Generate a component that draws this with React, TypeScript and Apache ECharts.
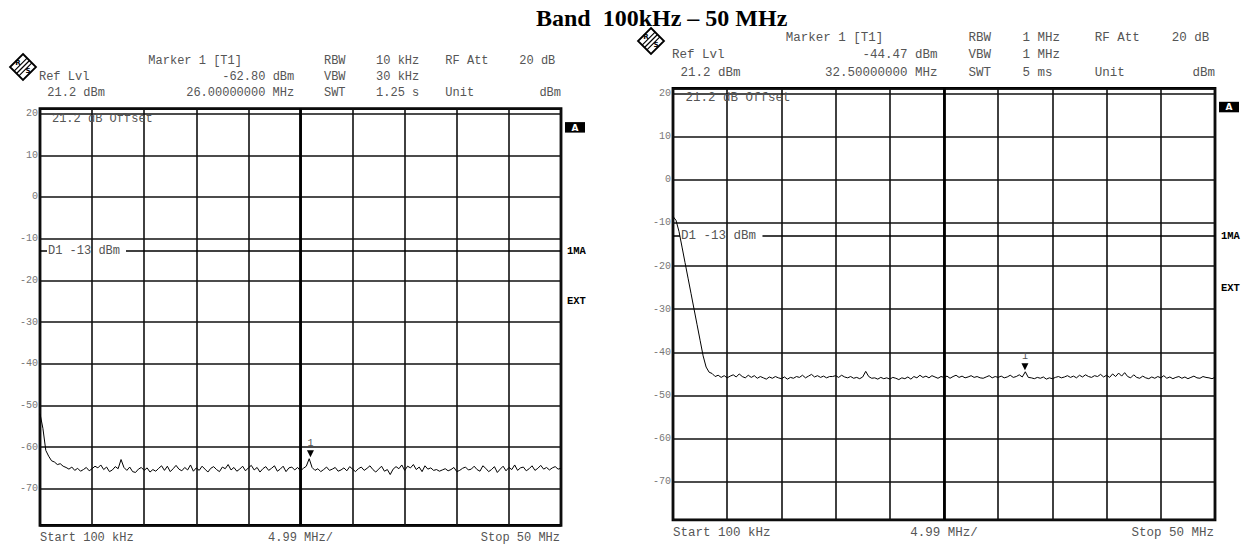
import React, { useEffect, useRef } from "react";
import * as echarts from "echarts";

const TITLE = "Band  100kHz – 50 MHz";
const START_MHZ = 0.1;
const STOP_MHZ = 50;
const REF_LEVEL = 21.2;
const RANGE_DB = 100;
const DISPLAY_LINE_DBM = -13;
const EXT_LEVEL = -25;
const BOTTOM_LABELS = ["Start 100 kHz", "4.99 MHz/", "Stop 50 MHz"];
const OFFSET_LABEL = "21.2 dB Offset";
const D1_LABEL = "D1 -13 dBm";

// header settings for both plots
const LEFT_SETTINGS = ["10 kHz", "30 kHz", "1.25 s", "-62.80 dBm", "26.00000000 MHz"];
const RIGHT_SETTINGS = ["1 MHz", "1 MHz", "5 ms", "-44.47 dBm", "32.50000000 MHz"];

const LEFT_MARKER = [26.0, -62.8];
const RIGHT_MARKER = [32.5, -44.47];

// trace levels (dBm) at equally spaced sweep points 100 kHz .. 50 MHz
const LEFT_LEVELS = [
  -52.0, -55.5, -60.8, -62.2, -63.3, -63.6, -64.2, -64.0, -64.6, -64.9,
  -65.3, -64.8, -65.6, -65.1, -65.8, -65.4, -64.9, -65.7, -65.2, -64.6,
  -65.0, -64.3, -65.4, -64.8, -65.9, -65.5, -64.7, -65.2, -63.0, -64.9,
  -65.6, -64.8, -65.9, -66.1, -65.3, -64.9, -65.6, -65.0, -66.0, -65.4,
  -65.8, -65.1, -64.5, -65.6, -64.6, -65.9, -65.2, -64.4, -65.3, -65.7,
  -64.9, -65.5, -64.3, -65.8, -65.0, -65.6, -64.6, -65.3, -66.0, -65.1,
  -64.7, -65.4, -65.9, -64.8, -65.2, -64.2, -65.5, -64.9, -65.8, -65.3,
  -64.6, -65.7, -65.0, -64.4, -65.5, -64.9, -66.0, -65.2, -64.7, -65.6,
  -65.1, -64.5, -65.8, -65.3, -64.6, -65.9, -65.0, -64.8, -65.5, -64.9,
  -65.7, -65.1, -64.6, -62.8, -64.9, -65.6, -65.2, -65.9, -65.4, -64.8,
  -65.6, -65.3, -64.9, -65.8, -65.5, -65.0, -65.7, -64.7, -65.3, -65.9,
  -65.2, -64.8, -65.6, -65.1, -64.5, -65.4, -66.0, -65.3, -64.6, -65.8,
  -65.4, -66.6, -65.3, -64.7, -65.2, -64.3, -65.6, -64.6, -65.0, -64.2,
  -65.4, -64.8, -65.9, -64.5, -65.3, -65.0, -65.6, -65.4, -65.8, -65.5,
  -65.2, -65.7, -65.4, -64.9, -65.9, -65.6, -65.1, -64.8, -65.5, -65.3,
  -64.6, -65.4, -65.8, -64.5, -65.1, -65.9, -65.4, -64.7, -66.1, -65.3,
  -64.6, -65.7, -64.9, -65.4, -64.3, -65.6, -65.0, -64.8, -65.7, -65.2,
  -64.5, -65.6, -65.1, -64.4, -65.3, -64.9, -65.5, -65.0, -64.7, -65.3,
  -65.1,
];

const RIGHT_LEVELS = [
  -8.5, -9.4, -12.0, -15.6, -19.2, -22.8, -26.4, -30.0, -33.6, -37.2,
  -40.8, -43.4, -44.6, -44.9, -45.6, -45.3, -45.8, -45.4, -45.9, -45.5,
  -45.2, -45.7, -45.0, -45.6, -45.9, -45.3, -45.8, -45.4, -46.0, -45.6,
  -45.9, -46.2, -45.7, -46.0, -45.6, -45.9, -46.1, -45.7, -46.2, -45.8,
  -46.0, -45.6, -45.8, -45.3, -45.9, -45.5, -45.1, -45.7, -45.4, -45.8,
  -45.5, -45.9, -45.6, -45.6, -45.4, -45.8, -45.3, -45.7, -45.9, -45.6,
  -46.0, -45.8, -46.1, -45.7, -44.4, -45.6, -46.0, -45.9, -46.2, -45.8,
  -46.1, -45.9, -46.2, -45.8, -46.0, -46.3, -45.9, -46.1, -45.7, -46.2,
  -45.6, -45.9, -45.3, -45.8, -45.5, -45.9, -45.4, -45.7, -46.0, -45.6,
  -45.8, -45.5, -46.0, -45.6, -45.3, -45.8, -45.5, -45.9, -45.7, -45.4,
  -45.8, -45.6, -45.9, -46.0, -45.7, -45.4, -45.9, -45.6, -45.8, -45.5,
  -45.9, -45.7, -45.3, -45.8, -45.6, -45.2, -45.7, -44.5, -45.8, -45.9,
  -46.1, -45.8, -46.0, -45.7, -46.2, -45.9, -46.1, -45.8, -45.6, -45.9,
  -45.7, -45.4, -45.8, -45.5, -45.9, -45.3, -45.7, -45.2, -45.6, -45.8,
  -45.4, -45.6, -45.1, -45.7, -45.3, -45.8, -45.0, -45.6, -44.8, -45.5,
  -44.7, -45.6, -45.9, -45.2, -45.8, -46.0, -45.5, -45.9, -46.1, -45.7,
  -46.0, -45.6, -45.9, -45.4, -46.0, -45.7, -46.1, -45.8, -45.6, -46.0,
  -45.7, -46.1, -45.8, -45.5, -45.9, -46.0, -45.6, -45.8, -45.9, -46.1,
  -45.8,
];

const SPAN = STOP_MHZ - START_MHZ;
const MONO = "'Liberation Mono', 'DejaVu Sans Mono', monospace";

type Panel = {
  left: number;
  top: number;
  w: number;
  h: number;
  rows: number[];
  logo: number[];
  fs: number;
  settings: string[];
  levels: number[];
  marker: number[];
};

const PANELS: Panel[] = [
  { left: 40, top: 108.6, w: 521, h: 416.8, rows: [61, 77, 92.5], logo: [23, 67], fs: 12, settings: LEFT_SETTINGS, levels: LEFT_LEVELS, marker: LEFT_MARKER },
  { left: 673, top: 88.3, w: 542, h: 431.5, rows: [37.5, 55, 72.5], logo: [651, 41], fs: 12.5, settings: RIGHT_SETTINGS, levels: RIGHT_LEVELS, marker: RIGHT_MARKER },
];

function txt(text: string, x: number, y: number, size: number, align: string, opts: any = {}) {
  return {
    type: "text",
    silent: true,
    z: 50,
    style: {
      text,
      x,
      y,
      fill: opts.fill || "#555",
      fontSize: size,
      fontFamily: opts.family || MONO,
      fontWeight: opts.weight || "normal",
      align,
      textAlign: align,
      verticalAlign: "middle",
      textVerticalAlign: "middle",
    },
  };
}

function logo(cx: number, cy: number) {
  const r = 13;
  const els: any[] = [];
  els.push({
    type: "polygon",
    silent: true,
    shape: { points: [[cx, cy - r], [cx + r, cy], [cx, cy + r], [cx - r, cy]] },
    style: { fill: "#fff", stroke: "#000", lineWidth: 1.8 },
  });
  for (const o of [-2.4, 0, 2.4]) {
    els.push({
      type: "line",
      silent: true,
      shape: { x1: cx + r / 2 + o, y1: cy - r / 2 + o, x2: cx - r / 2 + o, y2: cy + r / 2 + o },
      style: { stroke: "#000", lineWidth: 1.2 },
    });
  }
  els.push(txt("R", cx - 5, cy - 4, 7, "center", { fill: "#000", weight: "bold", family: "DejaVu Sans" }));
  els.push(txt("S", cx + 5, cy + 4, 7, "center", { fill: "#000", weight: "bold", family: "DejaVu Sans" }));
  return els;
}

function panelGraphics(p: Panel) {
  const c = (f: number) => p.left + f * p.w;
  const s = p.settings;
  const fs = p.fs;
  const yOf = (v: number) => p.top + ((REF_LEVEL - v) / RANGE_DB) * p.h;
  const bottom = p.top + p.h;
  const els: any[] = [
    txt("Marker 1 [T1]", c(0.208), p.rows[0], fs, "left"),
    txt("RBW", c(0.545), p.rows[0], fs, "left"),
    txt(s[0], c(0.645), p.rows[0], fs, "left"),
    txt("RF Att", c(0.778), p.rows[0], fs, "left"),
    txt("20 dB", c(0.92), p.rows[0], fs, "left"),
    txt("Ref Lvl", c(-0.002), p.rows[1], fs, "left"),
    txt(s[3], c(0.488), p.rows[1], fs, "right"),
    txt("VBW", c(0.545), p.rows[1], fs, "left"),
    txt(s[1], c(0.645), p.rows[1], fs, "left"),
    txt("21.2 dBm", c(0.014), p.rows[2], fs, "left"),
    txt(s[4], c(0.488), p.rows[2], fs, "right"),
    txt("SWT", c(0.545), p.rows[2], fs, "left"),
    txt(s[2], c(0.645), p.rows[2], fs, "left"),
    txt("Unit", c(0.778), p.rows[2], fs, "left"),
    txt("dBm", c(1.0), p.rows[2], fs, "right"),
    txt(OFFSET_LABEL, c(0.023), p.top + 10, fs, "left"),
    txt(BOTTOM_LABELS[0], c(0), bottom + 13, fs, "left"),
    txt(BOTTOM_LABELS[1], c(0.5), bottom + 13, fs, "center"),
    txt(BOTTOM_LABELS[2], c(1.0) - 1, bottom + 13, fs, "right"),
    txt("EXT", c(1.0) + 6, yOf(EXT_LEVEL), 10.5, "left", { fill: "#000", weight: "bold" }),
    {
      type: "rect",
      silent: true,
      z: 50,
      shape: { x: c(1.0) + 4, y: p.top + 13.5, width: 20, height: 10.5 },
      style: { fill: "#000" },
    },
    txt("A", c(1.0) + 14, p.top + 19, 9, "center", { fill: "#fff", weight: "bold", family: "DejaVu Sans" }),
  ];
  return els.concat(logo(p.logo[0], p.logo[1]));
}

function buildOption() {
  const grid = PANELS.map((p) => ({
    left: p.left,
    top: p.top,
    width: p.w,
    height: p.h,
    show: true,
    borderColor: "#000",
    borderWidth: 2.8,
    backgroundColor: "transparent",
    containLabel: false,
  }));
  const xAxis = PANELS.map((_, k) => ({
    type: "value",
    gridIndex: k,
    min: 0,
    max: SPAN,
    interval: SPAN / 10,
    axisLine: { show: false },
    axisTick: { show: false },
    axisLabel: { show: false },
    splitLine: { show: true, lineStyle: { color: "#111", width: 1.6 } },
  }));
  const yAxis = PANELS.map((_, k) => ({
    type: "value",
    gridIndex: k,
    min: REF_LEVEL - RANGE_DB,
    max: REF_LEVEL,
    splitNumber: 10,
    axisLine: { show: false },
    axisTick: { show: false },
    axisLabel: {
      show: true,
      color: "#777",
      fontSize: 10,
      fontFamily: MONO,
      margin: 2,
      showMinLabel: false,
      showMaxLabel: false,
    },
    splitLine: { show: true, lineStyle: { color: "#111", width: 1.6 } },
  }));
  const series = PANELS.map((p, k) => {
    const n = p.levels.length;
    const data = p.levels.map((v, i) => {
      const f = START_MHZ + (i * SPAN) / (n - 1);
      return [f - START_MHZ, v];
    });
    const d1Lead = (7 / p.w) * SPAN;
    const d1Resume = (86 / p.w) * SPAN * (p.w / 521);
    return {
      type: "line",
      xAxisIndex: k,
      yAxisIndex: k,
      data,
      symbol: "none",
      showSymbol: false,
      silent: true,
      z: 5,
      lineStyle: { color: "#000", width: 1 },
      markLine: {
        silent: true,
        symbol: "none",
        animation: false,
        label: { show: false },
        lineStyle: { color: "#000", width: 1.5, type: "solid" },
        data: [
          [
            {
              coord: [0, DISPLAY_LINE_DBM],
              label: {
                show: true,
                position: "end",
                formatter: D1_LABEL,
                color: "#555",
                fontSize: p.fs,
                fontFamily: MONO,
                distance: 1,
              },
            },
            { coord: [d1Lead, DISPLAY_LINE_DBM] },
          ],
          [
            {
              coord: [d1Resume, DISPLAY_LINE_DBM],
              label: {
                show: true,
                position: "end",
                formatter: "1MA",
                color: "#000",
                fontWeight: "bold",
                fontSize: 10.5,
                fontFamily: MONO,
                distance: 6,
              },
            },
            { coord: [SPAN, DISPLAY_LINE_DBM] },
          ],
          [
            { coord: [SPAN / 2, REF_LEVEL - RANGE_DB], lineStyle: { color: "#000", width: 2.8 } },
            { coord: [SPAN / 2, REF_LEVEL] },
          ],
        ],
      },
      markPoint: {
        silent: true,
        animation: false,
        symbol: "triangle",
        symbolSize: [7, 7],
        symbolRotate: 180,
        symbolOffset: [0, -5],
        itemStyle: { color: "#000" },
        label: { show: true, position: "top", formatter: "1", color: "#555", fontSize: 10, fontFamily: MONO, distance: 2 },
        data: [{ coord: [p.marker[0] - START_MHZ, p.marker[1]] }],
      },
    };
  });

  let graphic: any[] = [
    {
      type: "text",
      silent: true,
      style: {
        text: TITLE,
        x: 536,
        y: 18,
        fill: "#000",
        fontSize: 24,
        fontWeight: "bold",
        fontFamily: "'Liberation Serif', 'Times New Roman', serif",
        align: "left",
        textAlign: "left",
        verticalAlign: "middle",
        textVerticalAlign: "middle",
      },
    },
  ];
  PANELS.forEach((p) => {
    graphic = graphic.concat(panelGraphics(p));
  });

  return {
    animation: false,
    backgroundColor: "#fff",
    grid,
    xAxis,
    yAxis,
    series,
    graphic,
  };
}

export default function App() {
  const ref = useRef<HTMLDivElement>(null);
  useEffect(() => {
    if (!ref.current) return;
    const chart = echarts.init(ref.current, undefined, { renderer: "svg" });
    chart.setOption(buildOption() as any);
    return () => chart.dispose();
  }, []);
  return (
    <div
      ref={ref}
      style={{ position: "absolute", left: 0, top: 0, width: 1250, height: 546, background: "#fff" }}
    />
  );
}
